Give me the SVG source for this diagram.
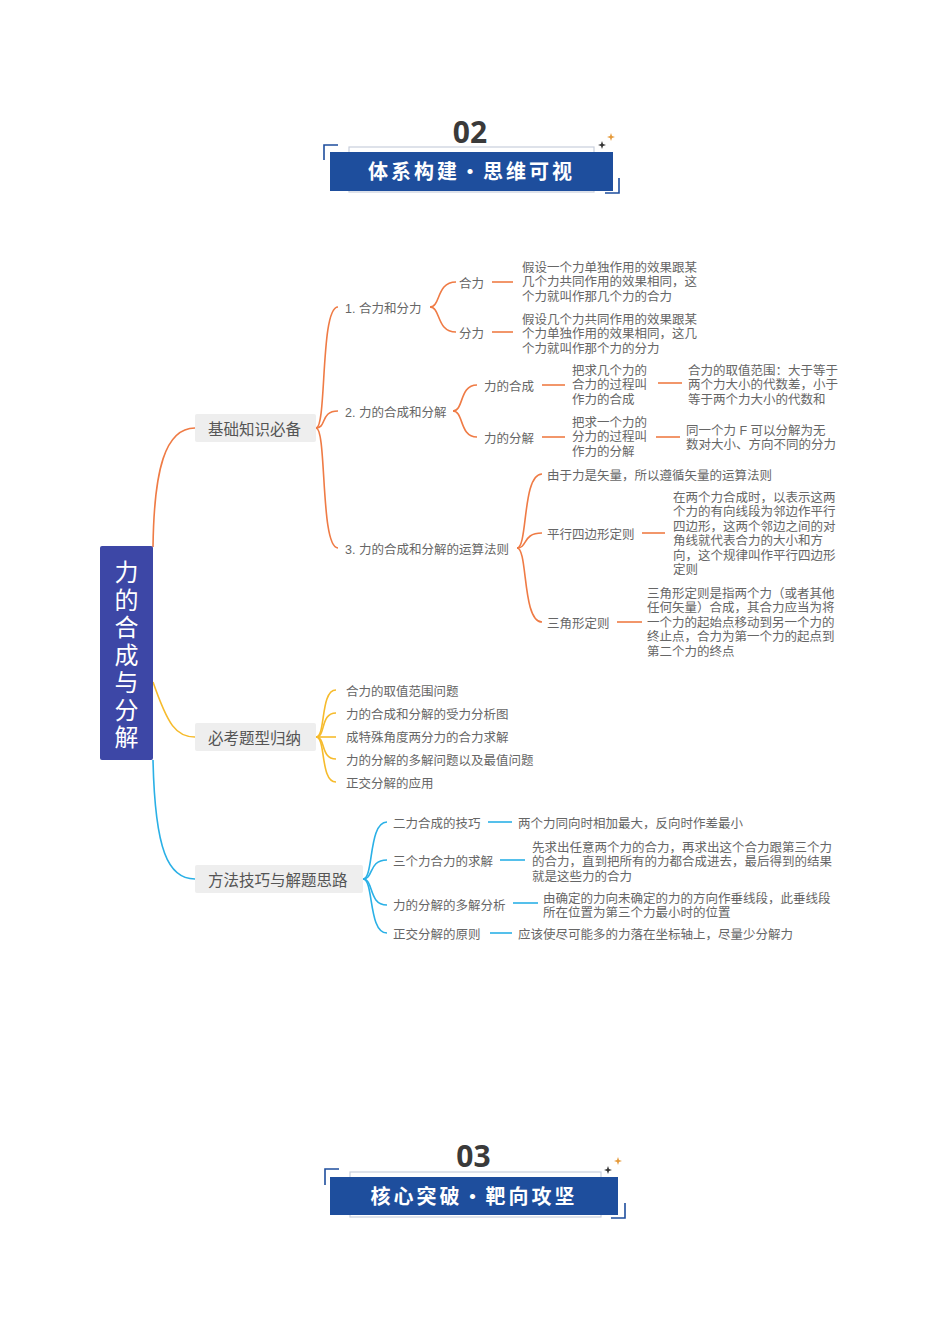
<svg xmlns="http://www.w3.org/2000/svg" width="950" height="1344" viewBox="0 0 950 1344">
<style>
.t{font-family:"Liberation Sans","Noto Sans CJK SC",sans-serif;font-size:12.5px;fill:#666;dominant-baseline:central;transform:translateY(1.5px)}
.bn{font-family:"Noto Sans CJK SC","Noto Sans",sans-serif;font-size:15.5px;fill:#555;dominant-baseline:central}
.root{font-family:"Liberation Sans","Noto Sans CJK SC",sans-serif;font-size:24px;fill:#fff;text-anchor:middle;dominant-baseline:central;transform:translateY(2px)}
.num{font-family:"Noto Sans","Noto Sans CJK SC",sans-serif;font-size:30px;font-weight:bold;fill:#3a3a3a;text-anchor:middle}
.ttl{font-family:"Noto Sans CJK SC",sans-serif;font-size:20px;font-weight:bold;fill:#fff;text-anchor:middle;letter-spacing:3px}
.o{stroke:#ef7b45;fill:none;stroke-width:1.6}
.y{stroke:#f6bb2c;fill:none;stroke-width:1.6}
.b{stroke:#2ab0e6;fill:none;stroke-width:1.6}
.frame{fill:none;stroke:#c9cfdc;stroke-width:1.2}
.bracket{fill:none;stroke:#1e4e9d;stroke-width:1.6}
</style>
<defs>
<path id="star" d="M0,-4 L1,-1 L4,0 L1,1 L0,4 L-1,1 L-4,0 L-1,-1 Z"/>
</defs>

<g id="header02">
<text class="num" x="470" y="143">02</text>
<rect class="frame" x="349" y="147" width="245" height="45"/>
<rect x="330" y="152" width="283" height="39" fill="#1e4e9d"/>
<path class="bracket" d="M338 145 H324 V160"/>
<path class="bracket" d="M605 193 H619 V178"/>
<use href="#star" x="602" y="145" fill="#333"/>
<use href="#star" x="611" y="137" fill="#e59a3a"/>
<text class="ttl" x="471.5" y="179">体系构建・思维可视</text>
</g>

<g id="header03">
<text class="num" x="473.5" y="1167">03</text>
<rect class="frame" x="350" y="1172" width="251" height="45"/>
<rect x="330" y="1177" width="288" height="38" fill="#1e4e9d"/>
<path class="bracket" d="M339 1169 H325 V1185"/>
<path class="bracket" d="M611 1218 H625 V1203"/>
<use href="#star" x="608" y="1170" fill="#333"/>
<use href="#star" x="618" y="1161" fill="#e59a3a"/>
<text class="ttl" x="474" y="1204">核心突破・靶向攻坚</text>
</g>

<g id="connectors">
<path class="o" d="M153 547 C154 470 165 428 195 428"/>
<path class="y" d="M153 682 C168 725 176 737 195 737"/>
<path class="b" d="M153 760 C155 850 168 879 195 879"/>

<path class="o" d="M316 428 C327 428 320 307 338 307"/>
<path class="o" d="M316 428 C327 428 320 411 338 411"/>
<path class="o" d="M316 428 C327 428 320 548 338 548"/>

<path class="o" d="M430 307 C441 307 436 282 456 282"/>
<path class="o" d="M430 307 C441 307 436 332 456 332"/>
<path class="o" d="M492 282 H513"/>
<path class="o" d="M492 332 H513"/>

<path class="o" d="M453 411 C464 411 459 385 477 385"/>
<path class="o" d="M453 411 C464 411 459 437 477 437"/>
<path class="o" d="M542 385 H565"/>
<path class="o" d="M542 437 H565"/>
<path class="o" d="M658 383 H682"/>
<path class="o" d="M656 437 H680"/>

<path class="o" d="M517 548 C528 548 522 474 542 474"/>
<path class="o" d="M517 548 C528 548 522 533 542 533"/>
<path class="o" d="M517 548 C528 548 522 622 542 622"/>
<path class="o" d="M642 533 H665"/>
<path class="o" d="M617 622 H642"/>

<path class="y" d="M316 737 C326 737 320 690 336 690"/>
<path class="y" d="M316 737 C326 737 320 713 336 713"/>
<path class="y" d="M316 737 H336"/>
<path class="y" d="M316 737 C326 737 320 759 336 759"/>
<path class="y" d="M316 737 C326 737 320 782 336 782"/>

<path class="b" d="M363 879 C374 879 368 822 387 822"/>
<path class="b" d="M363 879 C374 879 368 860 387 860"/>
<path class="b" d="M363 879 C374 879 368 905 387 905"/>
<path class="b" d="M363 879 C374 879 368 933 387 933"/>
<path class="b" d="M488 822 H512"/>
<path class="b" d="M500 860 H525"/>
<path class="b" d="M513 903 H538"/>
<path class="b" d="M490 933 H512"/>
</g>

<g id="root">
<rect x="100" y="546" width="53" height="214" rx="2" fill="#3d47a6"/>
<text class="root" x="126.5" y="570">力<tspan x="126.5" dy="27.5">的</tspan><tspan x="126.5" dy="27.5">合</tspan><tspan x="126.5" dy="27.5">成</tspan><tspan x="126.5" dy="27.5">与</tspan><tspan x="126.5" dy="27.5">分</tspan><tspan x="126.5" dy="27.5">解</tspan></text>
</g>

<g id="branch-basic">
<rect x="195" y="414" width="121" height="28" rx="2" fill="#eeeeee"/>
<text class="bn" x="208" y="428">基础知识必备</text>
</g>
<g id="branch-exam">
<rect x="195" y="723" width="121" height="28" rx="2" fill="#eeeeee"/>
<text class="bn" x="208" y="737">必考题型归纳</text>
</g>
<g id="branch-method">
<rect x="195" y="865" width="168" height="28" rx="2" fill="#eeeeee"/>
<text class="bn" x="208" y="879">方法技巧与解题思路</text>
</g>

<g id="n1"><text class="t" x="345" y="307">1. 合力和分力</text></g>
<g id="n1a"><text class="t" x="459" y="282">合力</text></g>
<g id="n1a-d"><text class="t" x="522" y="266">假设一个力单独作用的效果跟某<tspan x="522" dy="14.5">几个力共同作用的效果相同，这</tspan><tspan x="522" dy="14.5">个力就叫作那几个力的合力</tspan></text></g>
<g id="n1b"><text class="t" x="459" y="332">分力</text></g>
<g id="n1b-d"><text class="t" x="522" y="318">假设几个力共同作用的效果跟某<tspan x="522" dy="14.5">个力单独作用的效果相同，这几</tspan><tspan x="522" dy="14.5">个力就叫作那个力的分力</tspan></text></g>

<g id="n2"><text class="t" x="345" y="411">2. 力的合成和分解</text></g>
<g id="n2a"><text class="t" x="484" y="385">力的合成</text></g>
<g id="n2a-d"><text class="t" x="572" y="369">把求几个力的<tspan x="572" dy="14.5">合力的过程叫</tspan><tspan x="572" dy="14.5">作力的合成</tspan></text></g>
<g id="n2a-e"><text class="t" x="688" y="369">合力的取值范围：大于等于<tspan x="688" dy="14.5">两个力大小的代数差，小于</tspan><tspan x="688" dy="14.5">等于两个力大小的代数和</tspan></text></g>
<g id="n2b"><text class="t" x="484" y="437">力的分解</text></g>
<g id="n2b-d"><text class="t" x="572" y="421">把求一个力的<tspan x="572" dy="14.5">分力的过程叫</tspan><tspan x="572" dy="14.5">作力的分解</tspan></text></g>
<g id="n2b-e"><text class="t" x="686" y="429">同一个力 F 可以分解为无<tspan x="686" dy="14.5">数对大小、方向不同的分力</tspan></text></g>

<g id="n3"><text class="t" x="345" y="548">3. 力的合成和分解的运算法则</text></g>
<g id="n3a"><text class="t" x="547" y="474">由于力是矢量，所以遵循矢量的运算法则</text></g>
<g id="n3b"><text class="t" x="547" y="533">平行四边形定则</text></g>
<g id="n3b-d"><text class="t" x="673" y="496">在两个力合成时，以表示这两<tspan x="673" dy="14.5">个力的有向线段为邻边作平行</tspan><tspan x="673" dy="14.5">四边形，这两个邻边之间的对</tspan><tspan x="673" dy="14.5">角线就代表合力的大小和方</tspan><tspan x="673" dy="14.5">向，这个规律叫作平行四边形</tspan><tspan x="673" dy="14.5">定则</tspan></text></g>
<g id="n3c"><text class="t" x="547" y="622">三角形定则</text></g>
<g id="n3c-d"><text class="t" x="647" y="592">三角形定则是指两个力（或者其他<tspan x="647" dy="14.5">任何矢量）合成，其合力应当为将</tspan><tspan x="647" dy="14.5">一个力的起始点移动到另一个力的</tspan><tspan x="647" dy="14.5">终止点，合力为第一个力的起点到</tspan><tspan x="647" dy="14.5">第二个力的终点</tspan></text></g>

<g id="e1"><text class="t" x="346" y="690">合力的取值范围问题</text></g>
<g id="e2"><text class="t" x="346" y="713">力的合成和分解的受力分析图</text></g>
<g id="e3"><text class="t" x="346" y="736">成特殊角度两分力的合力求解</text></g>
<g id="e4"><text class="t" x="346" y="759">力的分解的多解问题以及最值问题</text></g>
<g id="e5"><text class="t" x="346" y="782">正交分解的应用</text></g>

<g id="m1"><text class="t" x="393" y="822">二力合成的技巧</text></g>
<g id="m1-d"><text class="t" x="518" y="822">两个力同向时相加最大，反向时作差最小</text></g>
<g id="m2"><text class="t" x="393" y="860">三个力合力的求解</text></g>
<g id="m2-d"><text class="t" x="532" y="846">先求出任意两个力的合力，再求出这个合力跟第三个力<tspan x="532" dy="14.5">的合力，直到把所有的力都合成进去，最后得到的结果</tspan><tspan x="532" dy="14.5">就是这些力的合力</tspan></text></g>
<g id="m3"><text class="t" x="393" y="904">力的分解的多解分析</text></g>
<g id="m3-d"><text class="t" x="543" y="897">由确定的力向未确定的力的方向作垂线段，此垂线段<tspan x="543" dy="14.5">所在位置为第三个力最小时的位置</tspan></text></g>
<g id="m4"><text class="t" x="393" y="933">正交分解的原则</text></g>
<g id="m4-d"><text class="t" x="518" y="933">应该使尽可能多的力落在坐标轴上，尽量少分解力</text></g>
</svg>
